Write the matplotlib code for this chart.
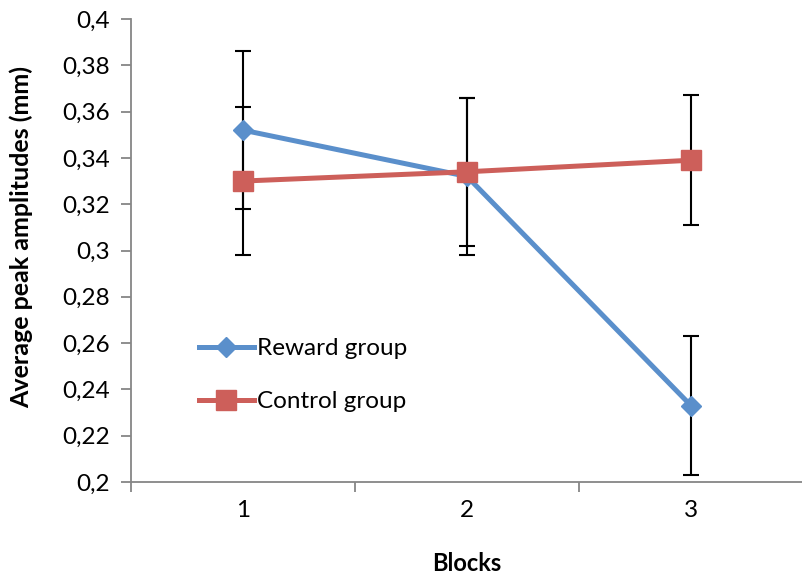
import numpy as np
import matplotlib
matplotlib.use('Agg')
import matplotlib.pyplot as plt

blocks = [1, 2, 3]
reward = [0.352, 0.332, 0.233]
reward_err = [0.034, 0.034, 0.030]
control = [0.330, 0.334, 0.339]
control_err = [0.032, 0.032, 0.028]
yticks = [0.2, 0.22, 0.24, 0.26, 0.28, 0.3, 0.32, 0.34, 0.36, 0.38, 0.4]

plt.rcParams['font.family'] = ['Lato', 'DejaVu Sans']

fig = plt.figure(figsize=(8.03, 5.74), dpi=100)
ax = fig.add_axes([131 / 803, 1 - 482 / 574, 1 - 131 / 803, (482 - 19) / 574])

# error bars first so the markers sit on top
ax.errorbar(blocks, reward, yerr=reward_err, fmt='none', ecolor='black',
            elinewidth=1.5, capsize=5.8, capthick=1.5, zorder=1)
ax.errorbar(blocks, control, yerr=control_err, fmt='none', ecolor='black',
            elinewidth=1.5, capsize=5.8, capthick=1.5, zorder=1)
ax.plot(blocks, reward, color='#5A8FCB', lw=3.6, marker='D', ms=10.5,
        label='Reward group', zorder=2)
ax.plot(blocks, control, color='#CD5F5A', lw=3.6, marker='s', ms=15,
        label='Control group', zorder=3)

ax.set_ylim(0.2, 0.4)
ax.set_yticks(yticks)
ax.set_yticklabels([('%g' % v).replace('.', ',') for v in yticks])
ax.set_xlim(0.5, 0.5 + 672 / 230.0)
ax.set_xticks(blocks)
ax.set_xticks([0.5, 1.5, 2.5, 3.5], minor=True)
ax.tick_params(axis='x', which='major', length=0, pad=13, labelsize=17.5)
ax.tick_params(axis='x', which='minor', length=7, width=1.3, color='#868686')
ax.tick_params(axis='y', length=7, width=1.3, color='#868686', pad=8, labelsize=17.5)

for s in ['top', 'right']:
    ax.spines[s].set_visible(False)
for s in ['left', 'bottom']:
    ax.spines[s].set_color('#868686')
    ax.spines[s].set_linewidth(1.3)

ax.set_xlabel('Blocks', fontsize=17, fontweight='bold', labelpad=22)
ax.set_ylabel('Average peak amplitudes (mm)', fontsize=18, fontweight='bold')
ax.yaxis.set_label_coords(-0.146, 0.53)

ax.legend(loc='upper left', bbox_to_anchor=(0.101, 0.31), frameon=False,
          fontsize=17.5, handlelength=2.26, handletextpad=0.12, labelspacing=1.3,
          borderaxespad=0, borderpad=0)

fig.savefig('out.png', dpi=100)
